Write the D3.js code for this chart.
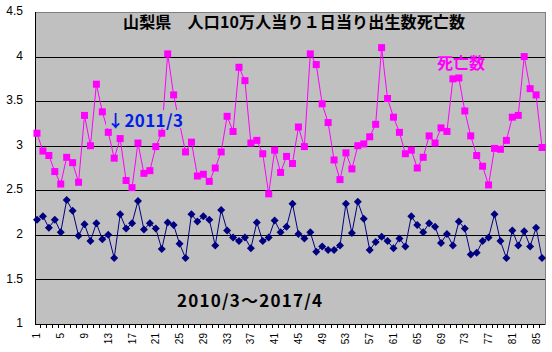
<!DOCTYPE html>
<html>
<head>
<meta charset="utf-8">
<script src="https://cdn.jsdelivr.net/npm/d3@7"></script>
<style>
  body { margin: 0; background: #fff; }
  svg { display: block; font-family: "Noto Sans CJK JP", "Noto Sans", sans-serif; }
  .tick-y { font-family: "Liberation Sans", Arial, sans-serif; font-size: 12px; }
  .tick-x { font-family: "Liberation Sans", Arial, sans-serif; font-size: 10px; }
</style>
</head>
<body>
<div id="chart"></div>
<script>
// months 2010/3 .. 2017/4, numbered 1..86
const months = d3.range(1, 87);

// 死亡数 (per 100k pop, per day)
const deaths = [3.14,2.94,2.89,2.71,2.57,2.87,2.81,2.59,3.34,3.00,
                3.69,3.38,3.15,2.86,3.08,2.61,2.53,3.03,2.69,2.72,
                2.99,3.14,4.03,3.57,3.25,2.93,3.04,2.66,2.68,2.60,
                2.75,2.93,3.33,3.16,3.88,3.73,3.03,3.06,2.91,2.46,
                2.95,2.70,2.88,2.80,3.21,2.99,4.03,3.91,3.47,3.26,
                2.84,2.62,2.92,2.74,3.00,3.02,3.10,3.24,4.10,3.53,
                3.32,3.15,2.91,2.95,2.75,2.87,3.11,3.03,3.20,3.16,
                3.75,3.76,3.39,3.11,2.89,2.77,2.56,2.97,2.96,3.06,
                3.32,3.34,4.00,3.64,3.57,2.98];

// 出生数
const births = [2.17,2.21,2.08,2.17,2.03,2.39,2.27,1.99,2.12,1.93,
                2.13,1.95,2.00,1.74,2.23,2.07,2.13,2.38,2.06,2.13,
                2.07,1.84,2.14,2.11,1.90,1.74,2.23,2.15,2.21,2.17,
                1.88,2.28,2.05,1.97,1.93,1.97,1.85,2.14,1.93,1.97,
                2.16,2.03,2.09,2.35,2.01,1.96,2.03,1.81,1.87,1.83,
                1.83,1.88,2.35,2.02,2.37,2.18,1.83,1.92,1.98,1.93,
                1.85,1.96,1.87,2.21,2.11,2.03,2.13,2.09,1.91,2.01,
                1.88,2.15,2.07,1.78,1.80,1.93,1.97,2.23,1.93,1.74,
                2.05,1.88,2.04,1.87,2.08,1.74];

const yTicks = [1, 1.5, 2, 2.5, 3, 3.5, 4, 4.5];
const xLabels = months.filter(m => (m - 1) % 4 === 0);

const fullW = 552, fullH = 352;
const pLeft = 35, pRight = 545, pTop = 12, pBottom = 324;

const svg = d3.select("#chart").append("svg")
  .attr("width", fullW).attr("height", fullH);

const x = d3.scaleBand().domain(months).range([34, pRight]).padding(0);
const y = d3.scaleLinear().domain([1, 4.5]).range([pBottom, pTop]);
const cx = d => x(d) + x.bandwidth() / 2;

// plot area
svg.append("rect")
  .attr("x", pLeft + 0.5).attr("y", pTop + 0.5)
  .attr("width", pRight - pLeft).attr("height", pBottom - pTop)
  .attr("fill", "#c0c0c0").attr("stroke", "#808080").attr("stroke-width", 1);

// gridlines
svg.append("g").selectAll("line")
  .data(yTicks.filter(t => t > 1 && t < 4.5))
  .join("line")
  .attr("x1", pLeft).attr("x2", pRight)
  .attr("y1", d => Math.round(y(d)) + 0.5).attr("y2", d => Math.round(y(d)) + 0.5)
  .attr("stroke", "#000").attr("stroke-width", 1);

// y axis
svg.append("line")
  .attr("x1", pLeft + 0.5).attr("x2", pLeft + 0.5)
  .attr("y1", pTop).attr("y2", pBottom)
  .attr("stroke", "#000");
svg.append("g").selectAll("text")
  .data(yTicks)
  .join("text")
  .attr("class", "tick-y")
  .attr("x", 23).attr("y", d => y(d))
  .attr("text-anchor", "end")
  .attr("dominant-baseline", "middle")
  .text(d => d);

// x axis
svg.append("line")
  .attr("x1", pLeft).attr("x2", pRight)
  .attr("y1", pBottom + 0.5).attr("y2", pBottom + 0.5)
  .attr("stroke", "#000");
svg.append("g").selectAll("line")
  .data(months.slice(1))
  .join("line")
  .attr("x1", d => Math.round(x(d)) + 0.5).attr("x2", d => Math.round(x(d)) + 0.5)
  .attr("y1", pBottom).attr("y2", pBottom + 4)
  .attr("stroke", "#000");
svg.append("g").selectAll("text")
  .data(xLabels)
  .join("text")
  .attr("class", "tick-x")
  .attr("transform", d => `translate(${cx(d) + 3.5},333) rotate(-90)`)
  .attr("text-anchor", "end")
  .text(d => d);

// lines
const line = d3.line().x((d, i) => cx(months[i])).y(d => y(d));

svg.append("path").datum(deaths)
  .attr("fill", "none").attr("stroke", "#ff00ff").attr("stroke-width", 1)
  .attr("d", line);
svg.append("path").datum(births)
  .attr("fill", "none").attr("stroke", "#000080").attr("stroke-width", 1)
  .attr("d", line);

// markers
svg.append("g").selectAll("rect")
  .data(deaths)
  .join("rect")
  .attr("x", (d, i) => cx(months[i]) - 3.5)
  .attr("y", d => y(d) - 3.5)
  .attr("width", 7).attr("height", 7)
  .attr("fill", "#ff00ff");

svg.append("g").selectAll("path")
  .data(births)
  .join("path")
  .attr("transform", (d, i) => `translate(${cx(months[i])},${y(d)})`)
  .attr("d", "M0,-4L4,0L0,4L-4,0Z")
  .attr("fill", "#000080");

// labels
svg.append("text")
  .attr("x", 123).attr("y", 28)
  .attr("font-size", 16).attr("font-weight", "bold").attr("fill", "#000")
  .attr("textLength", 342).attr("lengthAdjust", "spacing")
  .text("山梨県　人口10万人当り１日当り出生数死亡数");

// the 2011/3 note sits in a gray-filled box over the lines
svg.append("rect")
  .attr("x", 106).attr("y", 110)
  .attr("width", 79).attr("height", 18)
  .attr("fill", "#c0c0c0");
svg.append("text")
  .attr("x", 107).attr("y", 127)
  .attr("font-size", 17).attr("font-weight", "bold").attr("fill", "#0020e8")
  .attr("textLength", 76).attr("lengthAdjust", "spacing")
  .text("↓2011/3");

svg.append("text")
  .attr("x", 437).attr("y", 69)
  .attr("font-size", 16).attr("font-weight", "bold").attr("fill", "#ff00ff")
  .text("死亡数");

svg.append("text")
  .attr("x", 177).attr("y", 307)
  .attr("font-size", 17).attr("font-weight", "bold").attr("fill", "#000")
  .attr("textLength", 145).attr("lengthAdjust", "spacing")
  .text("2010/3～2017/4");
</script>
</body>
</html>
